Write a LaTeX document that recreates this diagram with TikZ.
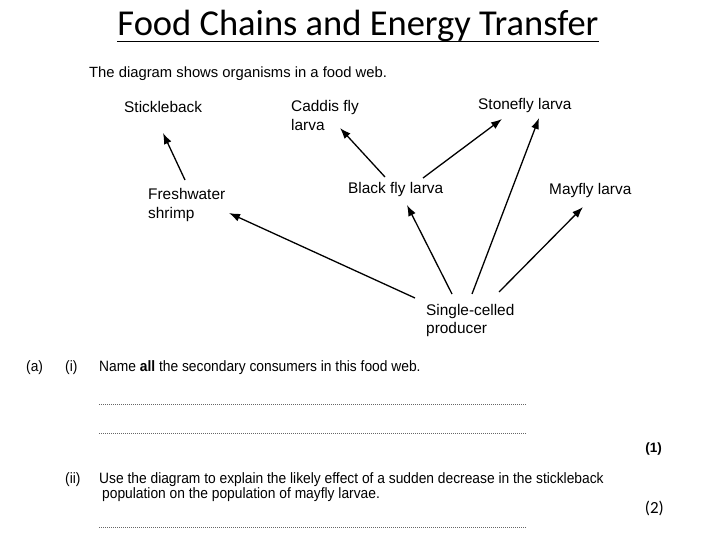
\documentclass[tikz,border=0pt]{standalone}
\usepackage{fontspec}
\setmainfont{Liberation Sans}
\newfontfamily\titlefont{Carlito}
\newfontfamily\qfont[FakeStretch=0.92]{Liberation Sans}
\usetikzlibrary{arrows.meta,calc}
\tikzset{
  lbl/.style={anchor=west,inner sep=0pt,align=left,font=\fontsize{15.4}{18.5}\selectfont},
  qtext/.style={anchor=base west,inner sep=0pt,font=\qfont\fontsize{15}{17}\selectfont},
  arr/.style={line width=1.3pt,-{Latex[length=11pt,width=8pt]}},
  answer/.style={line width=0.5pt,black!60,dash pattern=on 0.8pt off 1.2pt}
}
\begin{document}
\begin{tikzpicture}[x=1pt,y=-1pt]
\useasboundingbox[fill=white] (0,0) rectangle (720,540);
% title
\node[anchor=base,inner sep=0pt,font=\titlefont\fontsize{36.5}{40}\selectfont] (title) at (358,36) {Food Chains and Energy Transfer};
\draw[line width=1.8pt] ($(title.base west)+(0,5.5)$) -- ($(title.base east)+(0,5.5)$);
% intro
\node[lbl,font=\fontsize{14.8}{18}\selectfont] (intro) at (89,74) {The diagram shows organisms in a food web.};
% organisms
\node[lbl] (stick) at (124,107) {Stickleback};
\node[lbl] (caddis) at (291,115.5) {Caddis fly\\larva};
\node[lbl] (stone) at (478,106) {Stonefly larva};
\node[lbl] (shrimp) at (148,205) {Freshwater\\shrimp};
\node[lbl] (black) at (348,190) {Black fly larva};
\node[lbl] (mayfly) at (549,191) {Mayfly larva};
\node[lbl] (prod) at (426,320.5) {Single-celled\\producer};
% arrows
\draw[arr] ($(shrimp.west)+(37,-25)$) -- ($(stick.west)+(39,26)$);
\draw[arr] ($(black.west)+(37,-13)$) -- ($(caddis.west)+(49,12.5)$);
\draw[arr] ($(black.west)+(75,-12)$) -- ($(stone.west)+(24,13)$);
\draw[arr] ($(prod.west)+(46,-26.5)$) -- ($(stone.west)+(61,12)$);
\draw[arr] ($(prod.west)+(73,-28.5)$) -- ($(mayfly.west)+(34,16)$);
\draw[arr] ($(prod.west)+(26,-26.5)$) -- ($(black.west)+(59,15)$);
\draw[arr] ($(prod.west)+(-11,-22.5)$) -- ($(shrimp.west)+(81,8)$);
% questions
\node[qtext] (qa) at (26,371) {(a)};
\node[qtext] (qi) at (65,371) {(i)};
\node[qtext] (q1) at (99,371) {Name \textbf{all} the secondary consumers in this food web.};
\coordinate (d1a) at (99,404); \coordinate (d1b) at (526,404);
\coordinate (d2a) at (99,433); \coordinate (d2b) at (526,433);
\draw[answer] (d1a) -- (d1b);
\draw[answer] (d2a) -- (d2b);
\node[anchor=base east,inner sep=0pt,font=\bfseries\fontsize{13.5}{16}\selectfont] (m1) at (662,452) {(1)};
\node[qtext] (qii) at (65,483) {(ii)};
\node[qtext] (q2a) at (99,483) {Use the diagram to explain the likely effect of a sudden decrease in the stickleback};
\node[qtext] (q2b) at (102,498) {population on the population of mayfly larvae.};
\node[anchor=base east,inner sep=0pt,font=\titlefont\fontsize{17}{20}\selectfont] (m2) at (664,513) {(2)};
\coordinate (d3a) at (99,527); \coordinate (d3b) at (526,527);
\draw[answer] (d3a) -- (d3b);
\end{tikzpicture}
\end{document}
